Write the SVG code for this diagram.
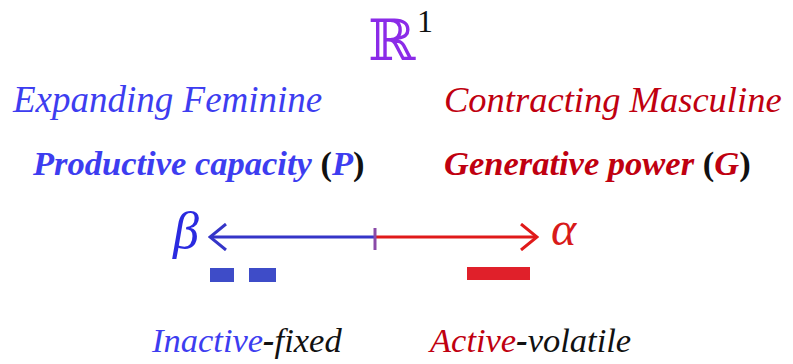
<svg xmlns="http://www.w3.org/2000/svg" width="793" height="364" viewBox="0 0 793 364">
  <style>
    .it { font-style: italic; }
    .bi { font-style: italic; font-weight: bold; }
    .blue { fill: #3d3df0; }
    .red { fill: #c00010; }
    .dark { fill: #111111; }
  </style>
  <defs>
    <!-- open chevron heads; tip sits at the line end -->
    <marker id="headBlue" viewBox="0 0 20 28" refX="17" refY="14" markerWidth="20" markerHeight="28" markerUnits="userSpaceOnUse" orient="auto">
      <path d="M2 1 L18 14 L2 27" fill="none" stroke="#3535c8" stroke-width="3"/>
    </marker>
    <marker id="headRed" viewBox="0 0 20 28" refX="17" refY="14" markerWidth="20" markerHeight="28" markerUnits="userSpaceOnUse" orient="auto">
      <path d="M2 1 L18 14 L2 27" fill="none" stroke="#e01a1a" stroke-width="3"/>
    </marker>
  </defs>

  <g font-family="Liberation Serif, Times New Roman, serif">
    <g id="title">
      <text x="368" y="60" font-size="57" fill="#8b2be8" font-family="DejaVu Serif, serif">ℝ</text>
      <text x="417" y="32" font-size="32" class="dark">1</text>
    </g>

    <g id="feminine">
      <text x="13" y="112" font-size="37" class="it blue">Expanding Feminine</text>
      <text x="33" y="175" font-size="34.5" class="bi"><tspan class="blue">Productive capacity</tspan><tspan class="dark" font-style="normal"> (</tspan><tspan class="blue">P</tspan><tspan class="dark" font-style="normal">)</tspan></text>
      <text x="152" y="352" font-size="34.5" class="it"><tspan class="blue">Inactive</tspan><tspan class="dark" font-weight="bold">-</tspan><tspan class="dark">fixed</tspan></text>
    </g>

    <g id="masculine">
      <text x="444" y="112" font-size="36.5" class="it red">Contracting Masculine</text>
      <text x="444" y="175" font-size="34.5" class="bi"><tspan class="red">Generative power</tspan><tspan class="dark" font-style="normal"> (</tspan><tspan class="red">G</tspan><tspan class="dark" font-style="normal">)</tspan></text>
      <text x="430" y="352" font-size="34.5" class="it"><tspan class="red">Active</tspan><tspan class="dark" font-weight="bold">-</tspan><tspan class="dark">volatile</tspan></text>
    </g>

    <g id="beta">
      <text x="173" y="248" font-size="52" class="it" fill="#2a2ae0">β</text>
      <rect x="210" y="268" width="24" height="14" fill="#3e4cc8"/>
      <rect x="249" y="268" width="27" height="14" fill="#3e4cc8"/>
    </g>

    <g id="alpha">
      <text x="551" y="245" font-size="48" class="it" fill="#d81a1a">α</text>
      <rect x="467" y="267" width="63" height="13" fill="#e0202a"/>
    </g>
  </g>

  <g id="connectors">
    <line x1="374" y1="237" x2="211" y2="237" stroke="#3535c8" stroke-width="3" marker-end="url(#headBlue)"/>
    <line x1="374" y1="237" x2="536" y2="237" stroke="#e01a1a" stroke-width="3" marker-end="url(#headRed)"/>
    <line x1="375" y1="228" x2="375" y2="250" stroke="#8a4aa8" stroke-width="3"/>
  </g>
</svg>
